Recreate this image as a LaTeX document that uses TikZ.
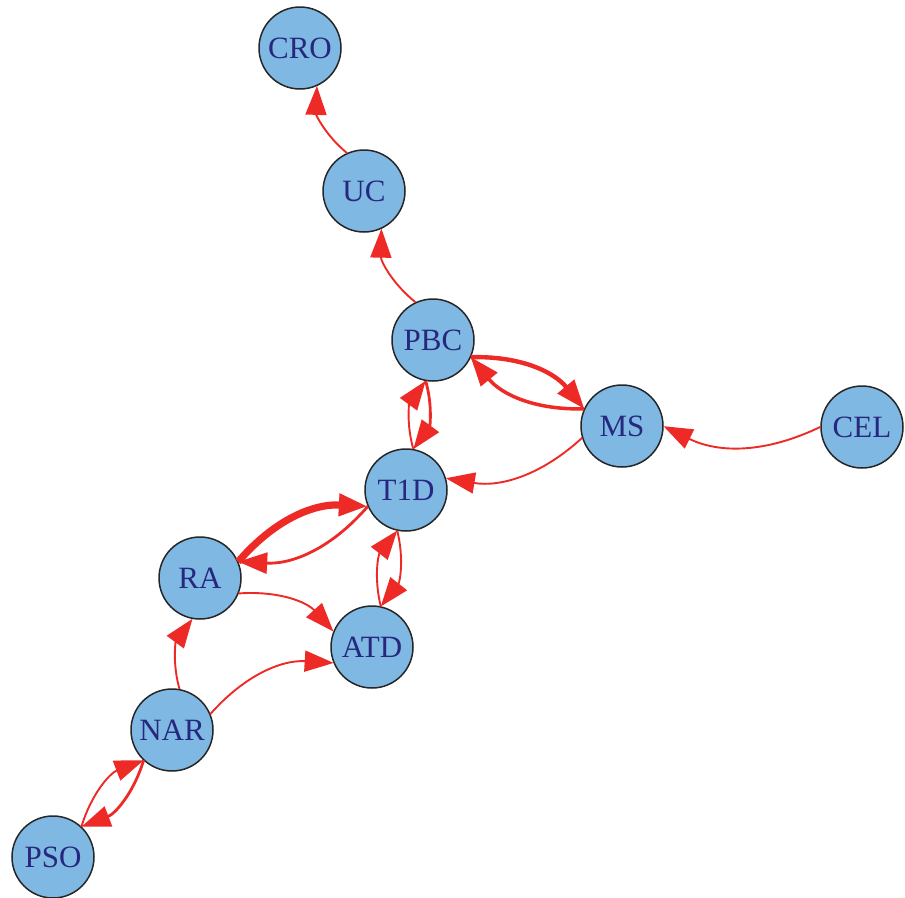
\documentclass[tikz,border=0pt]{standalone}
\usepackage{fontspec}
\setmainfont{Liberation Serif}
\usetikzlibrary{arrows.meta,calc}
\definecolor{nodefill}{HTML}{7FB8E2}
\definecolor{nodetext}{HTML}{26287F}
\definecolor{edgered}{HTML}{EE2A26}
\tikzset{
  vnode/.style={circle, draw=black!85, line width=1.5pt, fill=nodefill, text=nodetext,
    minimum size=82pt, inner sep=0pt, font=\fontsize{31}{31}\selectfont},
  edge/.style={draw=edgered, -{Triangle[length=29pt,width=21pt]}},
  w1/.style={line width=1.9pt},
  w2/.style={line width=2.8pt},
  w3/.style={line width=3.5pt},
  w4/.style={line width=4.4pt},
  w6/.style={line width=7.2pt},
}
\newcommand{\arc}[3][w1]{%
  \draw[edge,#1] ($(#2)!41.5pt!(#3)$) to[bend left=26] ($(#3)!41.5pt!(#2)$);}
\begin{document}
\begin{tikzpicture}[x=1pt,y=-1pt]
\useasboundingbox (0,0) rectangle (905,897);
\node[vnode] (CRO) at (300,48) {CRO};
\node[vnode] (UC) at (364,191) {UC};
\node[vnode] (PBC) at (433,340) {PBC};
\node[vnode] (MS) at (622,426) {MS};
\node[vnode] (CEL) at (862,427) {CEL};
\node[vnode] (T1D) at (406,490) {T1D};
\node[vnode] (RA) at (200,578) {RA};
\node[vnode] (ATD) at (372,647) {ATD};
\node[vnode] (NAR) at (172,730) {NAR};
\node[vnode] (PSO) at (53,857) {PSO};

\arc{UC}{CRO}
\arc{PBC}{UC}
\arc[w4]{PBC}{MS}
\arc[w3]{MS}{PBC}
\arc[w2]{PBC}{T1D}
\arc{T1D}{PBC}
\arc{MS}{T1D}
\arc{CEL}{MS}
\arc[w6]{RA}{T1D}
\arc[w2]{T1D}{RA}
\arc{T1D}{ATD}
\arc{ATD}{T1D}
\arc{RA}{ATD}
\arc{NAR}{RA}
\arc{NAR}{ATD}
\arc[w2]{NAR}{PSO}
\arc{PSO}{NAR}
\end{tikzpicture}
\end{document}
